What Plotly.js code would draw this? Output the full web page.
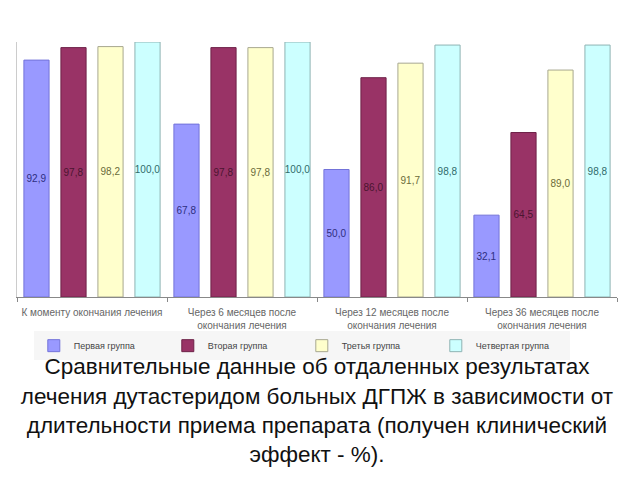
<!DOCTYPE html>
<html>
<head>
<meta charset="utf-8">
<script src="https://cdn.plot.ly/plotly-3.0.1.min.js"></script>
<style>html,body{margin:0;padding:0;background:#fff;}#chart{width:640px;height:480px;}</style>
</head>
<body>
<div id="chart"></div>
<script>
const categories = [
  "К моменту окончания лечения",
  "Через 6 месяцев после<br>окончания лечения",
  "Через 12 месяцев после<br>окончания лечения",
  "Через 36 месяцев после<br>окончания лечения"
];
const seriesNames = ["Первая группа", "Вторая группа", "Третья группа", "Четвертая группа"];
const group1 = [92.9, 67.8, 50.0, 32.1];
const group2 = [97.8, 97.8, 86.0, 64.5];
const group3 = [98.2, 97.8, 91.7, 89.0];
const group4 = [100.0, 100.0, 98.8, 98.8];
const seriesValues = [group1, group2, group3, group4];
const fillColors = ["#9999ff", "#993366", "#ffffcc", "#ccffff"];
const lineColors = ["#7373d9", "#6e2248", "#a8a890", "#8fb3b3"];
const textColors = ["#2e2e80", "#4a1530", "#6b6b3a", "#2f6b6b"];

const traces = seriesValues.map((vals, i) => ({
  type: "bar",
  name: seriesNames[i],
  x: categories,
  y: vals,
  marker: {color: fillColors[i], line: {color: lineColors[i], width: 1}},
  texttemplate: "%{y:.1f}",
  textposition: "inside",
  insidetextanchor: "middle",
  textangle: 0,
  constraintext: "none",
  textfont: {family: "Liberation Sans, Arial, sans-serif", size: 10, color: textColors[i]},
  hoverinfo: "skip"
}));

const layout = {
  width: 640, height: 480,
  margin: {l: 17, r: 23, t: 42, b: 183},
  paper_bgcolor: "#ffffff",
  plot_bgcolor: "#ffffff",
  separators: ",.",
  barmode: "group",
  bargap: 0.013,
  bargroupgap: 0.32,
  showlegend: true,
  legend: {
    orientation: "h",
    x: 0.028, xanchor: "left",
    y: -0.134, yanchor: "top",
    bgcolor: "#f6f6f6",
    font: {family: "Liberation Sans, Arial, sans-serif", size: 9, color: "#444444"},
    entrywidth: 89,
    itemwidth: 30,
    traceorder: "normal",
    itemclick: false
  },
  xaxis: {
    showline: true, linecolor: "#888888", linewidth: 1,
    ticks: "outside", tickson: "boundaries", ticklen: 4, tickcolor: "#888888",
    tickangle: 0,
    ticklabelstandoff: 6,
    tickfont: {family: "Liberation Sans, Arial, sans-serif", size: 10, color: "#666666"},
    showgrid: false, zeroline: false, fixedrange: true
  },
  yaxis: {
    range: [0, 100],
    showline: true, linecolor: "#cccccc", linewidth: 1,
    showticklabels: false, ticks: "", showgrid: false, zeroline: false, fixedrange: true
  },
  title: {
    text: "Сравнительные данные об отдаленных результатах<br>лечения дутастеридом больных ДГПЖ в зависимости от<br>длительности приема препарата (получен клинический<br>эффект - %).",
    font: {family: "Liberation Sans, Arial, sans-serif", size: 22.5, color: "#111111"},
    x: 0.5, xanchor: "center",
    xref: "paper",
    yref: "container", y: 0.22, yanchor: "middle"
  }
};

Plotly.newPlot("chart", traces, layout, {displayModeBar: false, staticPlot: true});
</script>
</body>
</html>
